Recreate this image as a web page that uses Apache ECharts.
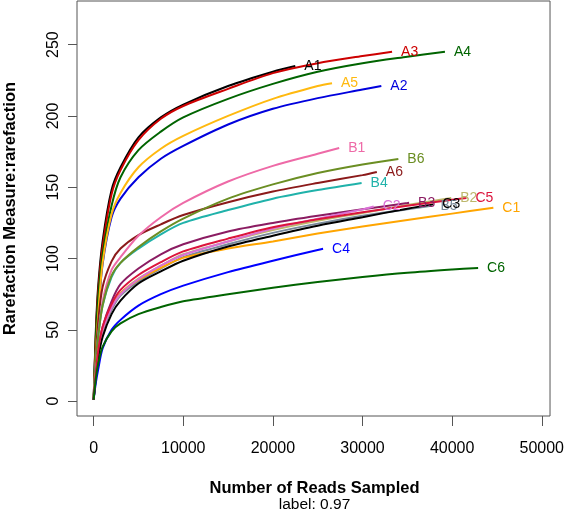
<!DOCTYPE html>
<html>
<head>
<meta charset="utf-8">
<script src="https://cdn.jsdelivr.net/npm/echarts@6/dist/echarts.min.js"></script>
<style>
  html, body { margin: 0; padding: 0; background: #fff; }
  #chart { width: 567px; height: 514px; }
</style>
</head>
<body>
<div id="chart"></div>
<script>
const steps = [0, 250, 500, 1000, 2000, 3000, 5000, 7500, 10000, 15000, 20000, 25000, 30000, 35000, 40000];
const xTicks = [0, 10000, 20000, 30000, 40000, 50000];
const yTicks = [0, 50, 100, 150, 200, 250];

// values at steps[i], then the last point [reads, value]
const A1 = [1, 50, 80, 112, 148, 164, 185, 199, 208, 221, 231];            const A1End = [22500, 235];
const A2 = [1, 35, 60, 96, 129, 142, 157, 170, 179, 194, 205, 212.5, 218.5]; const A2End = [32100, 221];
const A3 = [1, 47, 76, 108, 145, 162, 183, 198, 207, 219, 230, 237, 242];  const A3End = [33300, 245];
const A4 = [1, 45, 72, 103, 137, 157, 176, 189, 199, 212, 222.5, 231, 237, 241.5]; const A4End = [39200, 245];
const A5 = [1, 35, 60, 97, 131, 146, 164, 177, 186, 200, 212, 221];        const A5End = [26600, 223];
const A6 = [1, 32, 55, 80, 98, 107, 116.5, 124, 130.5, 139.5, 147, 153, 158.5]; const A6End = [31600, 160.7];
const B1 = [1, 28, 46, 70, 92, 101, 116, 129, 139, 154, 165, 173.5];       const B1End = [27400, 177.5];
const B2 = [1, 20, 34, 50, 66, 75.5, 86, 95, 103, 112, 120, 126.5, 132, 137.5]; const B2End = [39900, 142.5];
const B3 = [1, 22, 36, 52, 70, 82, 93, 103, 110, 119, 125, 130, 134.5, 139]; const B3End = [35200, 139.2];
const B4 = [1, 27, 45, 67, 87, 97, 107, 117, 125, 134, 142, 148];          const B4End = [29900, 153];
const B5 = [1, 19, 33, 49, 64, 74, 84, 93, 101, 110, 118, 124.5, 130, 134.5]; const B5End = [37700, 137];
const B6 = [1, 27, 45, 67, 88, 97, 108, 119, 128, 142, 152, 160, 166];     const B6End = [34000, 169.8];
const C1 = [1, 20, 34, 50, 66, 75.5, 85, 93.5, 100.5, 107, 112, 117.5, 122.5, 127, 131.5]; const C1End = [44600, 135.6];
const C2 = [1, 20, 34, 50, 65.5, 75, 85.5, 95, 102.5, 112, 121, 128, 134.5]; const C2End = [31250, 136.5];
const C3 = [1, 17, 30, 45, 61, 70.5, 82.5, 91, 98.5, 108.5, 116, 123, 129, 135]; const C3End = [37900, 138];
const C4 = [1, 13, 22, 37, 50, 57, 67, 75, 81, 90.5, 98.5, 106];           const C4End = [25600, 106.9];
const C5 = [1, 20, 35, 52, 68, 78, 88.5, 97.5, 105, 114, 122, 127.5, 132.5, 137, 141.3]; const C5End = [41600, 142.5];
const C6 = [1, 16, 26, 38, 49, 54.5, 61, 66, 70, 75, 79.5, 83.5, 87, 90, 92.3]; const C6End = [42900, 93.4];

const curves = [
  ['A1', A1, A1End, '#000000'],
  ['A2', A2, A2End, '#0000DD'],
  ['A3', A3, A3End, '#CD0000'],
  ['A4', A4, A4End, '#006400'],
  ['A5', A5, A5End, '#FFB90F'],
  ['A6', A6, A6End, '#8B1A1A'],
  ['B1', B1, B1End, '#EE6AA7'],
  ['B2', B2, B2End, '#BDB76B'],
  ['B3', B3, B3End, '#8B1C62'],
  ['B4', B4, B4End, '#20B2AA'],
  ['B5', B5, B5End, '#778899'],
  ['B6', B6, B6End, '#6B8E23'],
  ['C1', C1, C1End, '#FFA500'],
  ['C2', C2, C2End, '#DA70D6'],
  ['C3', C3, C3End, '#000000'],
  ['C4', C4, C4End, '#0000FF'],
  ['C5', C5, C5End, '#DC143C'],
  ['C6', C6, C6End, '#006400']
];

const font = "'Liberation Sans', Arial, sans-serif";
const axisGrey = '#555';

const series = curves.map(([name, vals, end, color]) => {
  const data = vals.map((v, i) => [steps[i], v]);
  data.push(end);
  return {
    name: name,
    type: 'line',
    data: data,
    smooth: 0.3,
    showSymbol: false,
    lineStyle: { color: color, width: 2 },
    itemStyle: { color: color },
    emphasis: { disabled: true },
    endLabel: {
      show: true,
      formatter: '{a}',
      color: color,
      fontFamily: font,
      fontSize: 14,
      distance: 9
    }
  };
});

const chart = echarts.init(document.getElementById('chart'), null, { renderer: 'canvas' });
chart.setOption({
  animation: false,
  backgroundColor: '#fff',
  grid: { left: 77, right: 15, top: 1, bottom: 98, show: true, borderColor: axisGrey, borderWidth: 1 },
  xAxis: {
    type: 'value',
    min: -1856,
    max: 50922,
    axisLine: { show: false, onZero: false },
    splitLine: { show: false },
    axisTick: { show: true, length: 10, customValues: xTicks, lineStyle: { color: axisGrey } },
    axisLabel: { customValues: xTicks, margin: 25, formatter: v => String(v), fontFamily: font, fontSize: 16, color: '#000' }
  },
  yAxis: {
    type: 'value',
    min: -10.4,
    max: 280.6,
    axisLine: { show: false, onZero: false },
    splitLine: { show: false },
    axisTick: { show: true, length: 9, customValues: yTicks, lineStyle: { color: axisGrey } },
    axisLabel: { customValues: yTicks, rotate: 90, margin: 15, formatter: v => String(v), fontFamily: font, fontSize: 16, color: '#000' }
  },
  graphic: [
    {
      type: 'text', x: 314.5, y: 488,
      style: { text: 'Number of Reads Sampled', fontFamily: font, fontSize: 16.5, fontWeight: 'bold', fill: '#000', textAlign: 'center', textVerticalAlign: 'middle' }
    },
    {
      type: 'text', x: 314.5, y: 505,
      style: { text: 'label: 0.97', fontFamily: font, fontSize: 15.5, fill: '#000', textAlign: 'center', textVerticalAlign: 'middle' }
    },
    {
      type: 'text', x: 10, y: 208.5, rotation: Math.PI / 2,
      style: { text: 'Rarefaction Measure:rarefaction', fontFamily: font, fontSize: 16.5, fontWeight: 'bold', fill: '#000', textAlign: 'center', textVerticalAlign: 'middle' }
    }
  ],
  series: series
});
</script>
</body>
</html>
